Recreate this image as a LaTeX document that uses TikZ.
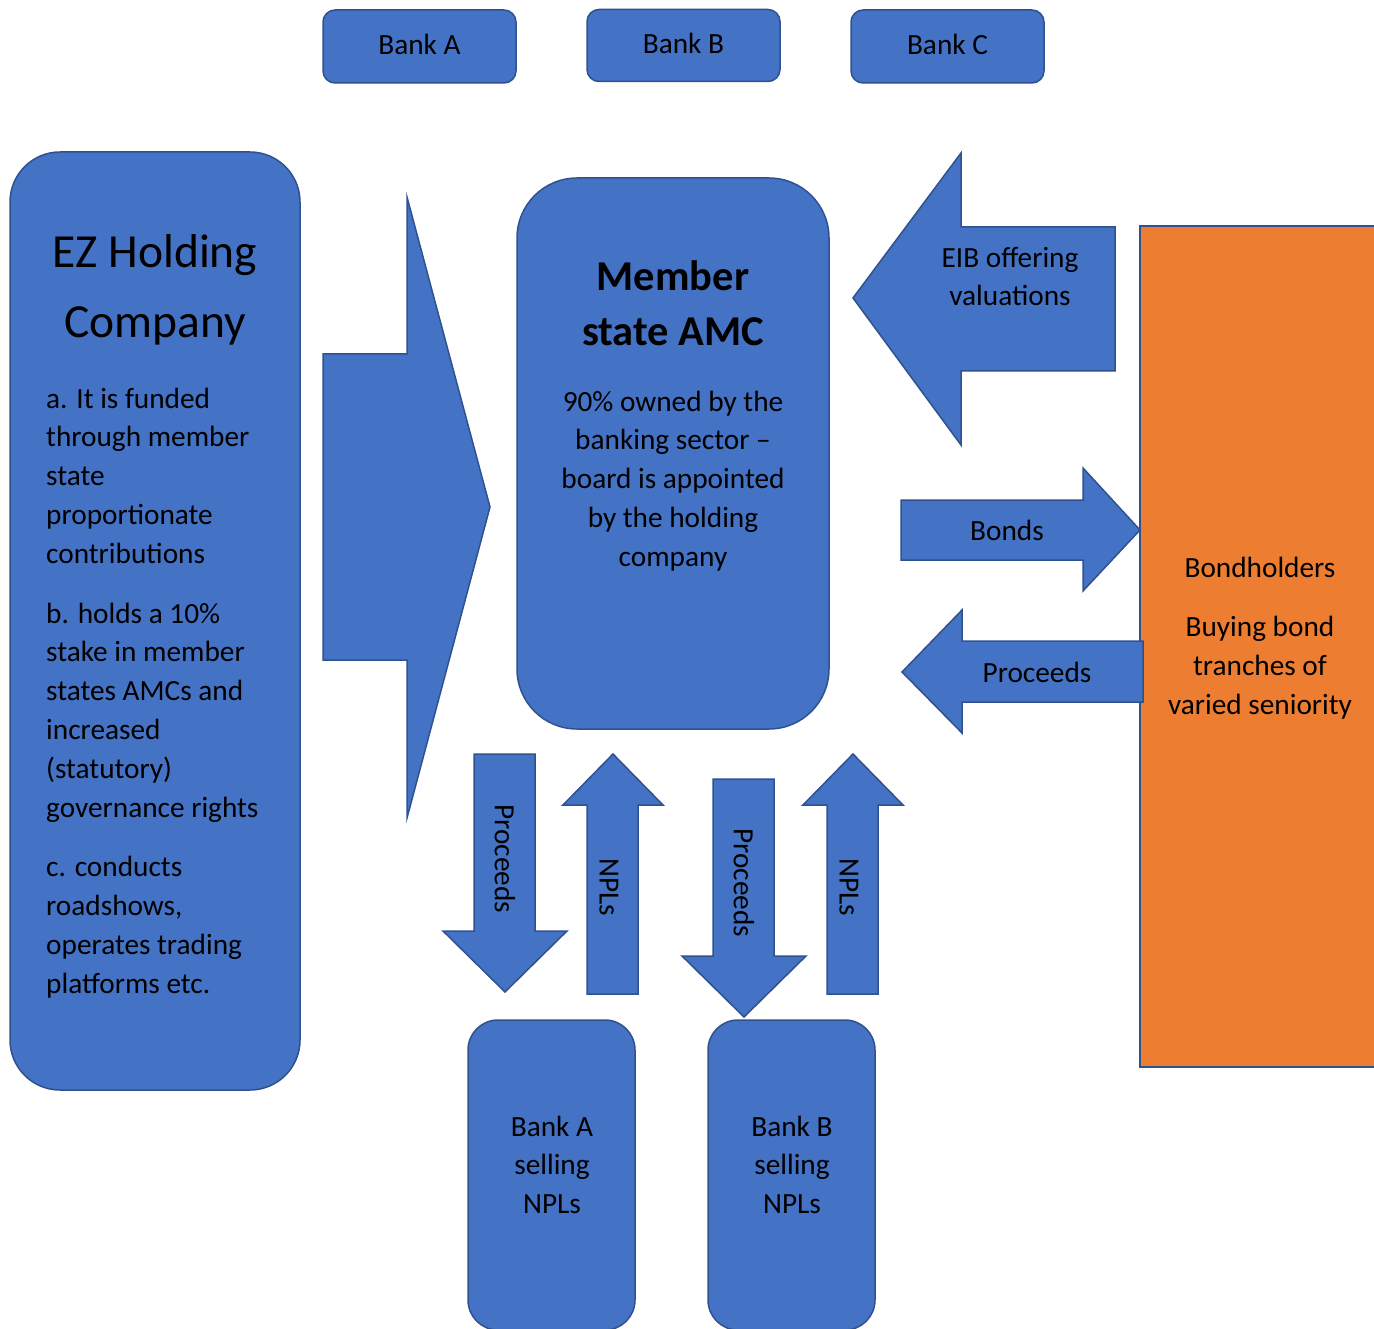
\documentclass[tikz,border=0pt]{standalone}
\usepackage{fontspec}
\setmainfont{Carlito}
\definecolor{amcblue}{HTML}{4472C4}
\definecolor{amcline}{HTML}{2F528F}
\definecolor{bondorange}{HTML}{ED7D31}

\begin{document}
\begin{tikzpicture}[
    x=1pt, y=-1pt,
    blk/.style={fill=amcblue, draw=amcline, line width=1.5pt, line join=miter},
    box/.style={blk, rectangle, inner sep=0pt},
    txt/.style={inner sep=0pt, font=\fontsize{29.3}{38.8}\selectfont, align=center},
    bank/.style={box, txt, rounded corners=12pt, minimum width=193pt, text height=20pt, text depth=4pt},
]
\useasboundingbox (0,0) rectangle (1374,1329);
\clip (0,0) rectangle (1374,1329);

% Banks
\node[bank, minimum height=73pt] (bankA) at (419.5,46.5) {Bank A};
\node[bank, minimum height=72pt] (bankB) at (683.5,45.5) {Bank B};
\node[bank, minimum height=73pt] (bankC) at (947.5,46.5) {Bank C};

% Holding company
\node[box, rounded corners=50pt, minimum width=290pt, minimum height=938pt] (ez) at (155,621) {};
\node[txt, anchor=north, font=\fontsize{47.5}{70}\selectfont] (eztitle) at (155,218) {\strut EZ Holding\\Company};
\node[txt, anchor=north west, align=left] (eztext) at (46,380.8) {\strut a. It is funded\\through member\\state\\proportionate\\contributions\\[21pt]
b. holds a 10\%\\stake in member\\states AMCs and\\increased\\(statutory)\\governance rights\\[21pt]
c. conducts\\roadshows,\\operates trading\\platforms etc.};

% Big arrow into the AMC
\draw[blk] (323,354) -- (407,354) -- (407,197) -- (490,507) -- (407,818) -- (407,660) -- (323,660) -- cycle;

% Member state AMC
\node[box, rounded corners=60pt, minimum width=312pt, minimum height=551pt] (amc) at (673,453.5) {};
\node[txt, anchor=north, font=\fontsize{42.5}{55}\selectfont\bfseries] (amctitle) at (673,251.5) {\strut Member\\state AMC};
\node[txt, anchor=north] (amctext) at (673,383.8) {\strut 90\% owned by the\\banking sector --\\board is appointed\\by the holding\\company};

% Bondholders
\node[rectangle, fill=bondorange, draw=amcline, line width=1.5pt, minimum width=260pt, minimum height=841pt] (bond) at (1270,646.5) {};
\node[txt, anchor=north] (bondtext) at (1260,549.8) {\strut Bondholders\\[21pt]Buying bond\\tranches of\\varied seniority};

% EIB arrow
\draw[blk] (853,298) -- (961,153) -- (961,227) -- (1115,227) -- (1115,371) -- (961,371) -- (961,445) -- cycle;
\node[txt, anchor=north] (eib) at (1010,239.8) {\strut EIB offering\\valuations};

% Bonds and proceeds
\draw[blk] (901,500) -- (1083,500) -- (1083,468) -- (1140,530) -- (1083,591) -- (1083,560) -- (901,560) -- cycle;
\node[txt, anchor=base] (bonds) at (1007,540) {Bonds};
\draw[blk] (902,672) -- (962,610) -- (962,641) -- (1143,641) -- (1143,702) -- (962,702) -- (962,733) -- cycle;
\node[txt, anchor=base] (procB) at (1037,682) {Proceeds};

% Arrows to the selling banks
\draw[blk] (474,754) -- (535,754) -- (535,931) -- (567,931) -- (505,992) -- (443,931) -- (474,931) -- cycle;
\node[txt, rotate=-90] (procA1) at (505,859) {Proceeds};
\draw[blk] (613,754) -- (663,805) -- (638,805) -- (638,994) -- (587,994) -- (587,805) -- (563,805) -- cycle;
\node[txt, rotate=-90] (nplA) at (609,887) {NPLs};
\draw[blk] (713,779) -- (774,779) -- (774,956) -- (806,956) -- (744,1017) -- (682,956) -- (713,956) -- cycle;
\node[txt, rotate=-90] (procA2) at (744,883) {Proceeds};
\draw[blk] (853,754) -- (903,805) -- (878,805) -- (878,994) -- (827,994) -- (827,805) -- (803,805) -- cycle;
\node[txt, rotate=-90] (nplB) at (849,887) {NPLs};

% Selling banks
\node[box, rounded corners=30pt, minimum width=167pt, minimum height=310pt] (sellA) at (551.5,1175) {};
\node[txt, anchor=north] (sellAtext) at (552,1108.8) {\strut Bank A\\selling\\NPLs};
\node[box, rounded corners=30pt, minimum width=167pt, minimum height=310pt] (sellB) at (791.5,1175) {};
\node[txt, anchor=north] (sellBtext) at (792,1108.8) {\strut Bank B\\selling\\NPLs};
\end{tikzpicture}
\end{document}
